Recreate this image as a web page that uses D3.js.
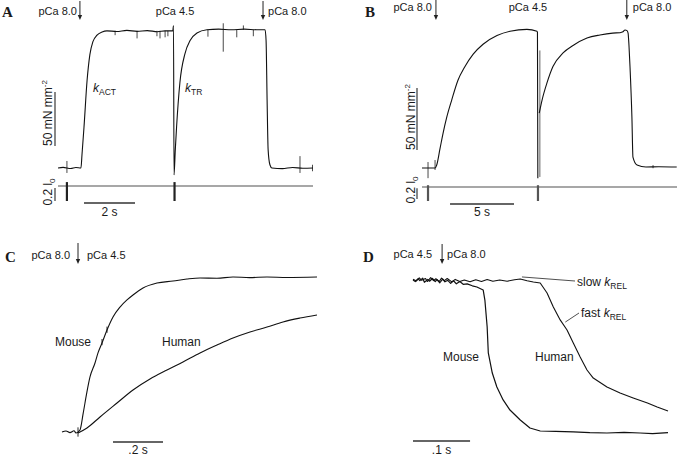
<!DOCTYPE html>
<html>
<head>
<meta charset="utf-8">
<script src="https://cdn.jsdelivr.net/npm/d3@7"></script>
<style>
  body { margin: 0; background: #fff; }
  text { font-family: "Liberation Sans", Arial, sans-serif; fill: #1a1a1a; }
  .letter { font-family: "Liberation Serif", "Times New Roman", serif; font-weight: bold; font-size: 15px; }
</style>
</head>
<body>
<div id="chart"></div>
<script>
// ---- Panel A: force (mN mm^-2) vs time (s)
const aForce = [
  [0, 0], [0.2, 0.6], [0.5, -0.5], [0.7, 0.4], [0.9, 0], [0.94, 12], [1.02, 38], [1.14, 81],
  [1.25, 105], [1.37, 117], [1.53, 123], [1.73, 126], [1.92, 127], [2.3, 126.4], [2.7, 127.4],
  [3.1, 126.5], [3.5, 127.2], [3.9, 126.2], [4.2, 127], [4.5, 127], [4.53, 132], [4.55, -6.5],
  [4.6, 17], [4.65, 38], [4.78, 79], [4.98, 106], [5.18, 118], [5.45, 125], [5.84, 128],
  [6.3, 128.6], [6.8, 128], [7.3, 128.6], [7.8, 128], [8.12, 128], [8.16, 118], [8.2, 63],
  [8.24, 17], [8.31, 3], [8.39, 0], [8.8, -0.6], [9.2, 0.5], [9.6, -0.2], [10, 0]
];
// spikes: [time, low, high]
const aSpikes = [
  [0.35, -4.6, 6.5], [2.24, 123, 127], [3.1, 120, 127], [3.88, 122, 127], [4.0, 120, 127],
  [4.2, 121, 127], [4.31, 122, 127], [5.88, 121.6, 128], [6.48, 107.7, 134], [7.01, 121, 128],
  [7.27, 128, 132], [7.66, 122, 128], [9.49, -4.6, 11], [9.98, -3, 3]
];
const aLength = [[0, 0], [10, 0]];
const aLengthSteps = [0.35, 4.57];
const aArrows = [0.86, 8.04];

// ---- Panel B
const bForce1 = [
  [0, -0.8], [0.5, -0.8], [1.02, -0.8], [1.15, 1.6], [1.41, 15], [1.64, 27], [1.93, 40],
  [2.32, 54], [2.81, 70], [3.3, 80], [4.0, 91], [4.77, 99], [5.86, 106],
  [6.88, 109.5], [8.2, 111], [8.98, 109.5], [9.02, 108.5], [9.05, -9]
];
const bForce2 = [
  [9.16, 43.5], [9.38, 54], [9.77, 68], [10.23, 81], [11.02, 92], [11.8, 98], [12.89, 104],
  [13.9, 106.5], [14.9, 108], [15.47, 108.3], [15.7, 109], [15.86, 110.5], [16.02, 110],
  [16.1, 108], [16.17, 98], [16.25, 81], [16.4, 40], [16.48, 8], [16.8, 1.6], [17.5, 0],
  [18.5, 0.2], [19.9, 0]
];
const bSpikes = [[0.47, -9, 4], [1.02, -2.4, 5.6], [18.05, -1, 1.5]];
const bRelease = [9.2, -8, 94];
const bLength = [[0, 0], [20, 0]];
const bLengthSteps = [0.47, 9.06];
const bArrows = [1.09, 16.0];

// ---- Panel C: normalised force vs time (s)
const cMouse = [
  [0, 0], [0.016, 0.006], [0.032, -0.004], [0.048, 0.008], [0.056, -0.006], [0.072, 0.013],
  [0.085, 0.123], [0.099, 0.252], [0.112, 0.355], [0.132, 0.445], [0.144, 0.51], [0.16, 0.574],
  [0.18, 0.658], [0.204, 0.742], [0.232, 0.806], [0.26, 0.852], [0.284, 0.884], [0.324, 0.929],
  [0.38, 0.961], [0.444, 0.974], [0.5, 0.987], [0.552, 0.994], [0.62, 0.992], [0.684, 1],
  [0.75, 0.996], [0.82, 1], [0.9, 0.997], [1.02, 1]
];
const cHuman = [
  [0.064, -0.006], [0.1, 0.026], [0.152, 0.097], [0.22, 0.187], [0.284, 0.271], [0.352, 0.342],
  [0.42, 0.4], [0.484, 0.452], [0.552, 0.51], [0.62, 0.561], [0.684, 0.606], [0.752, 0.645],
  [0.82, 0.677], [0.884, 0.71], [0.952, 0.735], [1.02, 0.755]
];

// ---- Panel D
const dMouse = [
  [0, 1], [0.004, 0.99], [0.009, 1.008], [0.012, 0.996], [0.017, 1.012], [0.02, 0.985],
  [0.026, 1.004], [0.029, 0.992], [0.034, 1.01], [0.039, 0.99], [0.042, 1.003], [0.047, 0.982],
  [0.052, 1.006], [0.056, 0.988], [0.061, 0.998], [0.066, 0.978], [0.071, 0.995], [0.076, 0.975],
  [0.082, 0.99], [0.088, 0.972], [0.095, 0.975], [0.104, 0.962], [0.112, 0.954], [0.123, 0.935],
  [0.126, 0.869], [0.13, 0.693], [0.132, 0.523], [0.139, 0.392], [0.147, 0.301], [0.158, 0.216],
  [0.17, 0.15], [0.188, 0.085], [0.205, 0.033], [0.223, 0.013], [0.25, 0.01], [0.281, 0.007],
  [0.31, 0.002], [0.34, 0], [0.37, 0.004], [0.398, 0], [0.42, -0.004], [0.447, 0.002]
];
const dHuman = [
  [0, 1.005], [0.006, 0.994], [0.011, 1.014], [0.015, 0.998], [0.022, 1.01], [0.025, 0.99],
  [0.031, 1.016], [0.036, 0.996], [0.04, 1.008], [0.046, 0.99], [0.05, 1.012], [0.055, 0.996],
  [0.06, 1.01], [0.068, 0.988], [0.074, 1.004], [0.082, 0.99], [0.09, 1.0], [0.1, 0.988],
  [0.11, 1.002], [0.12, 0.99], [0.13, 1.003], [0.14, 0.992], [0.152, 1.0], [0.165, 0.992],
  [0.178, 1.002], [0.188, 1.007], [0.2, 0.995], [0.211, 0.987], [0.223, 0.98], [0.235, 0.915],
  [0.246, 0.824], [0.258, 0.739], [0.27, 0.673], [0.281, 0.588], [0.293, 0.497],
  [0.305, 0.412], [0.316, 0.359], [0.34, 0.301], [0.363, 0.261], [0.386, 0.229], [0.411, 0.196],
  [0.428, 0.17], [0.447, 0.144]
];

const width = 677;
const height = 459;

const svg = d3.select('#chart')
  .append('svg')
  .attr('width', width)
  .attr('height', height);

function trace(data, x, y, color = '#111', w = 1.1, curve = d3.curveMonotoneX) {
  const line = d3.line()
    .x(d => x(d[0]))
    .y(d => y(d[1]))
    .curve(curve);
  svg.append('path')
    .attr('d', line(data))
    .attr('fill', 'none')
    .attr('stroke', color)
    .attr('stroke-width', w)
    .attr('stroke-linejoin', 'round');
}

function spikes(data, x, y, color = '#333') {
  svg.append('g').selectAll('line')
    .data(data)
    .enter()
    .append('line')
    .attr('x1', d => x(d[0])).attr('x2', d => x(d[0]))
    .attr('y1', d => y(d[1])).attr('y2', d => y(d[2]))
    .attr('stroke', color)
    .attr('stroke-width', 0.9);
}

function arrow(xPos, y1, y2) {
  svg.append('line')
    .attr('x1', xPos).attr('x2', xPos)
    .attr('y1', y1).attr('y2', y2 - 3)
    .attr('stroke', '#222').attr('stroke-width', 1);
  svg.append('path')
    .attr('d', `M${xPos - 2.2},${y2 - 5}L${xPos + 2.2},${y2 - 5}L${xPos},${y2}Z`)
    .attr('fill', '#222');
}

function label(x, y, txt, anchor = 'start', size = 11) {
  return svg.append('text')
    .attr('x', x).attr('y', y)
    .attr('text-anchor', anchor)
    .attr('font-size', size)
    .text(txt);
}

function kLabel(x, y, sub, pre = '') {
  const t = svg.append('text').attr('x', x).attr('y', y).attr('font-size', 12);
  if (pre) t.append('tspan').text(pre);
  t.append('tspan').attr('font-style', 'italic').text('k');
  t.append('tspan').attr('font-size', 8.5).attr('dy', 3).text(sub);
}

function hBar(x1, x2, yPos) {
  svg.append('line')
    .attr('x1', x1).attr('x2', x2)
    .attr('y1', yPos).attr('y2', yPos)
    .attr('stroke', '#333').attr('stroke-width', 1.3);
}

function vBar(xPos, y1, y2, color = '#555') {
  svg.append('line')
    .attr('x1', xPos).attr('x2', xPos)
    .attr('y1', y1).attr('y2', y2)
    .attr('stroke', color).attr('stroke-width', 1.4);
}

function forceLabel(x, y) {
  const t = svg.append('text')
    .attr('transform', `translate(${x},${y}) rotate(-90)`)
    .attr('text-anchor', 'middle')
    .attr('font-size', 12);
  t.append('tspan').text('50 mN mm');
  t.append('tspan').attr('font-size', 8).attr('dy', -5).text('-2');
}

function lengthLabel(x, y) {
  const t = svg.append('text')
    .attr('transform', `translate(${x},${y}) rotate(-90)`)
    .attr('text-anchor', 'middle')
    .attr('font-size', 12);
  t.append('tspan').text('0.2 l');
  t.append('tspan').attr('font-size', 8).attr('dy', 3).text('0');
}

// ================= Panel A
const xA = d3.scaleLinear().domain([0, 10]).range([58, 313]);
const yA = d3.scaleLinear().domain([0, 140]).range([168, 16.8]);
const lA = d3.scaleLinear().domain([0, -0.23]).range([186, 201]);

label(2, 17, 'A').attr('class', 'letter');
label(xA(aArrows[0]) - 3, 15, 'pCa 8.0', 'end');
label(xA(4.59), 15, 'pCa 4.5', 'middle');
label(xA(aArrows[1]) + 5, 15, 'pCa 8.0');
aArrows.forEach(t => arrow(xA(t), 1, 20));

trace(aLength, xA, lA, '#8a8a8a', 1.6, d3.curveLinear);
aLengthSteps.forEach(t => {
  svg.append('line')
    .attr('x1', xA(t)).attr('x2', xA(t))
    .attr('y1', lA(0.06)).attr('y2', lA(-0.23))
    .attr('stroke', '#222').attr('stroke-width', 2.2);
});
spikes(aSpikes, xA, yA);
trace(aForce, xA, yA);
kLabel(93, 92, 'ACT');
kLabel(185, 92, 'TR');

vBar(55, yA(70.4), yA(20.4));
forceLabel(52, 113);
vBar(55, lA(-0.03), lA(-0.23));
lengthLabel(52, 192);
hBar(xA(1.02), xA(1.02 + 2), 203);
label(xA(2.02), 216, '2 s', 'middle', 12);

// ================= Panel B
const xB = d3.scaleLinear().domain([0, 20]).range([422, 678]);
const yB = d3.scaleLinear().domain([0, 120]).range([167, 18.2]);
const lB = d3.scaleLinear().domain([0, -0.2]).range([187, 199]);

label(365, 17, 'B').attr('class', 'letter');
label(xB(bArrows[0]) - 4, 11, 'pCa 8.0', 'end');
label(xB(8.28), 11, 'pCa 4.5', 'middle');
label(xB(bArrows[1]) + 6, 11, 'pCa 8.0');
bArrows.forEach(t => arrow(xB(t), 0, 20));

trace(bLength, xB, lB, '#8a8a8a', 1.6, d3.curveLinear);
bLengthSteps.forEach(t => {
  svg.append('line')
    .attr('x1', xB(t)).attr('x2', xB(t))
    .attr('y1', lB(0.03)).attr('y2', lB(-0.233))
    .attr('stroke', '#555').attr('stroke-width', 2.2);
});
spikes(bSpikes, xB, yB);
svg.append('line')
  .attr('x1', xB(bRelease[0])).attr('x2', xB(bRelease[0]))
  .attr('y1', yB(bRelease[1])).attr('y2', yB(bRelease[2]))
  .attr('stroke', '#9a9a9a').attr('stroke-width', 1.6);
trace(bForce1, xB, yB);
trace(bForce2, xB, yB);

vBar(417, yB(63.7), yB(13.7));
forceLabel(415, 117);
vBar(417, lB(-0.02), lB(-0.2));
lengthLabel(415, 190);
hBar(xB(2.19), xB(2.19 + 5), 204);
label(xB(4.69), 216, '5 s', 'middle', 12);

// ================= Panel C
const xC = d3.scaleLinear().domain([0, 1.02]).range([62, 317]);
const yC = d3.scaleLinear().domain([0, 1]).range([432, 277]);

label(5, 262, 'C').attr('class', 'letter');
label(xC(0.064) - 8, 259, 'pCa 8.0', 'end');
label(xC(0.064) + 9, 259, 'pCa 4.5');
arrow(xC(0.064), 243, 264);

trace(cHuman, xC, yC);
trace(cMouse, xC, yC);
spikes([[0.064, -0.03, 0.03], [0.18, 0.64, 0.68], [0.16, 0.56, 0.6]], xC, yC, '#111');
label(55, 346, 'Mouse', 'start', 12);
label(162, 346, 'Human', 'start', 12);
hBar(xC(0.204), xC(0.404), 442);
label(xC(0.304), 454, '.2 s', 'middle', 12);

// ================= Panel D
const xD = d3.scaleLinear().domain([0, 0.447]).range([413, 668]);
const yD = d3.scaleLinear().domain([0, 1]).range([433, 280]);

label(363, 262, 'D').attr('class', 'letter');
label(xD(0.051) - 10, 258, 'pCa 4.5', 'end');
label(xD(0.051) + 5, 258, 'pCa 8.0');
arrow(xD(0.051), 244, 264);

trace(dMouse, xD, yD, '#111', 1.2, d3.curveLinear);
trace(dHuman, xD, yD, '#111', 1.1, d3.curveLinear);

// leader lines for k_REL labels
svg.append('line')
  .attr('x1', xD(0.191)).attr('y1', yD(1.02))
  .attr('x2', 575).attr('y2', 281)
  .attr('stroke', '#222').attr('stroke-width', 0.8);
svg.append('line')
  .attr('x1', xD(0.267)).attr('y1', yD(0.725))
  .attr('x2', 579).attr('y2', 313)
  .attr('stroke', '#222').attr('stroke-width', 0.8);
kLabel(577, 286, 'REL', 'slow ');
kLabel(581, 317, 'REL', 'fast ');

label(443, 361, 'Mouse', 'start', 12);
label(535, 361, 'Human', 'start', 12);
hBar(xD(0), xD(0.1), 441);
label(xD(0.05), 454, '.1 s', 'middle', 12);
</script>
</body>
</html>
